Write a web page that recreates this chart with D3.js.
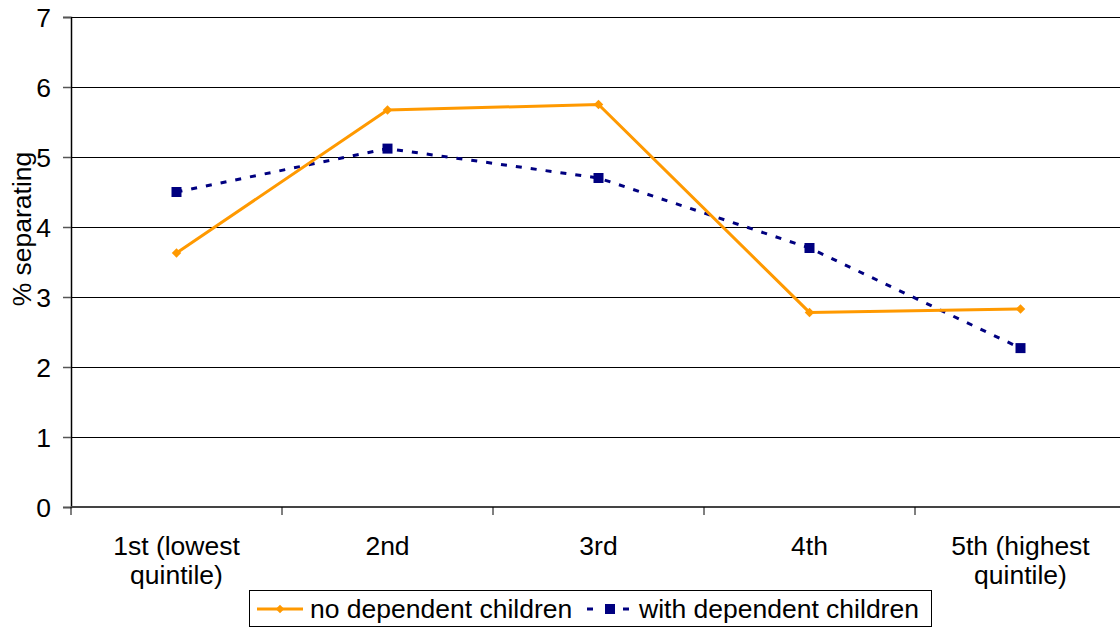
<!DOCTYPE html>
<html><head><meta charset="utf-8">
<script src="https://cdn.jsdelivr.net/npm/d3@7/dist/d3.min.js"></script>
<style>body{margin:0;background:#fff}svg{display:block}text{font-family:"Liberation Sans",Arial,sans-serif;fill:#000}</style>
</head><body><svg id="c" width="1120" height="629"></svg>
<script>
const categories = [["1st (lowest","quintile)"],["2nd"],["3rd"],["4th"],["5th (highest","quintile)"]];
const noDependent = [3.63, 5.67, 5.75, 2.78, 2.83];
const withDependent = [4.50, 5.12, 4.70, 3.70, 2.27];
const yTicks = [0,1,2,3,4,5,6,7];
const seriesNames = ["no dependent children","with dependent children"];

const FS = 26.5;
const svg = d3.select("#c");
const L = 71, R = 1126, T = 17, B = 507;
const x = d3.scaleBand().domain(d3.range(categories.length)).range([L, R]);
const y = d3.scaleLinear().domain([0,7]).range([B, T]);

// gridlines
svg.append("g").selectAll("line").data(yTicks.filter(d=>d>0)).join("line")
  .attr("x1", L).attr("x2", 1120).attr("y1", d=>y(d)).attr("y2", d=>y(d))
  .attr("stroke", "#000").attr("stroke-width", 1).attr("shape-rendering","crispEdges");

// y title
svg.append("text").attr("transform","translate(31,229) rotate(-90)").attr("text-anchor","middle")
  .attr("font-size",FS).text("% separating");

// y axis
const ya = svg.append("g").attr("transform", `translate(${L},0)`)
  .call(d3.axisLeft(y).tickValues(yTicks).tickSize(8).tickPadding(12).tickFormat(d3.format("d")));
ya.attr("font-size", null).attr("font-family", null);
ya.select(".domain").attr("stroke","#000").attr("stroke-width",1.5);
ya.selectAll(".tick line").attr("stroke","#555").attr("stroke-width",1.5);
ya.selectAll("text").attr("font-size", FS).attr("dy","0.36em");

// x axis
svg.append("line").attr("x1", L).attr("x2", 1120).attr("y1", B).attr("y2", B).attr("stroke","#444").attr("stroke-width",2);
svg.append("g").selectAll("line").data(d3.range(categories.length)).join("line")
  .attr("x1", i=>x(i)).attr("x2", i=>x(i))
  .attr("y1", B).attr("y2", B+8).attr("stroke","#000").attr("stroke-width",1);
const cl = svg.append("g").selectAll("text").data(categories).join("text")
  .attr("x", (d,i)=>x(i)+x.bandwidth()/2).attr("y", 555).attr("text-anchor","middle").attr("font-size",FS);
cl.selectAll("tspan").data(d=>d).join("tspan")
  .attr("x", function(){return this.parentNode.getAttribute("x");})
  .attr("dy", (d,i)=> i===0 ? 0 : 29).text(d=>d);

const cx = i => x(i) + x.bandwidth()/2;
const line = d3.line().x((d,i)=>cx(i)).y(d=>y(d));
const diamond = d3.symbol().type(d3.symbolSquare).size(45);

// with dependent (dashed, navy)
svg.append("path").datum(withDependent).attr("d", line).attr("fill","none")
  .attr("stroke","#000080").attr("stroke-width",3).attr("stroke-dasharray","6,9");
svg.append("g").selectAll("rect").data(withDependent).join("rect")
  .attr("x",(d,i)=>cx(i)-5).attr("y",d=>y(d)-5).attr("width",10).attr("height",10).attr("fill","#000080");

// no dependent (solid, orange)
svg.append("path").datum(noDependent).attr("d", line).attr("fill","none")
  .attr("stroke","#FF9900").attr("stroke-width",3);
svg.append("g").selectAll("path.m").data(noDependent).join("path")
  .attr("d", diamond)
  .attr("transform",(d,i)=>`translate(${cx(i)},${y(d)}) rotate(45)`).attr("fill","#FF9900");

// legend
const lg = svg.append("g");
lg.append("rect").attr("x",249.5).attr("y",590.5).attr("width",682).attr("height",36)
  .attr("fill","#fff").attr("stroke","#000").attr("stroke-width",1);
lg.append("line").attr("x1",257).attr("x2",303).attr("y1",609).attr("y2",609).attr("stroke","#FF9900").attr("stroke-width",3);
lg.append("path").attr("d", d3.symbol().type(d3.symbolSquare).size(36)).attr("transform","translate(280,609) rotate(45)").attr("fill","#FF9900");
lg.append("text").attr("x",310).attr("y",618).attr("font-size",FS).text(seriesNames[0]);
lg.append("line").attr("x1",587).attr("x2",629).attr("y1",609).attr("y2",609).attr("stroke","#000080").attr("stroke-width",3).attr("stroke-dasharray","6,12");
lg.append("rect").attr("x",605).attr("y",604).attr("width",10).attr("height",10).attr("fill","#000080");
lg.append("text").attr("x",639).attr("y",618).attr("font-size",FS).text(seriesNames[1]);
</script></body></html>
